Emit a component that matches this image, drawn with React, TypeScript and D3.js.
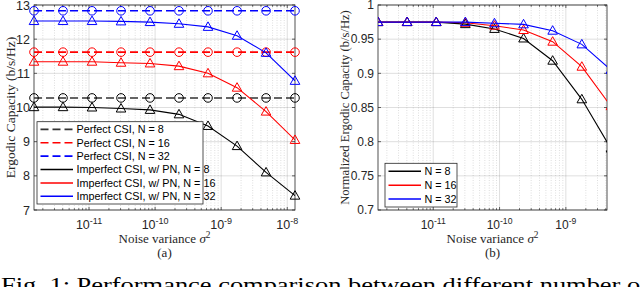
import { useEffect, useRef } from "react";
import * as d3 from "d3";

// noise variance sigma^2 at each simulated point
const noiseVariance = [1.47e-12, 4.04e-12, 1.11e-11, 3.05e-11, 8.38e-11, 2.3e-10, 6.32e-10, 1.74e-9, 4.78e-9, 1.31e-8];

const xTicks = [1e-11, 1e-10, 1e-9, 1e-8];
const xTickExponents = ["-11", "-10", "-9", "-8"];

const capacityTicks = [7, 8, 9, 10, 11, 12, 13];
const normalizedTicks = [0.7, 0.75, 0.8, 0.85, 0.9, 0.95, 1];
const normalizedTickLabels = ["0.7", "0.75", "0.8", "0.85", "0.9", "0.95", "1"];

// (a) ergodic capacity
const perfectN8 = [10.28, 10.28, 10.28, 10.28, 10.28, 10.28, 10.28, 10.28, 10.28, 10.28];
const perfectN16 = [11.62, 11.62, 11.62, 11.62, 11.62, 11.62, 11.62, 11.62, 11.62, 11.62];
const perfectN32 = [12.83, 12.83, 12.83, 12.83, 12.83, 12.83, 12.83, 12.83, 12.83, 12.83];
const imperfectN8 = [10.01, 10.01, 10.0, 9.97, 9.93, 9.8, 9.46, 8.87, 8.1, 7.42];
const imperfectN16 = [11.34, 11.34, 11.34, 11.31, 11.29, 11.21, 11.0, 10.58, 9.88, 9.05];
const imperfectN32 = [12.53, 12.53, 12.53, 12.52, 12.5, 12.45, 12.36, 12.1, 11.6, 10.78];

// (b) normalized ergodic capacity
const normalizedN8 = [0.975, 0.975, 0.975, 0.972, 0.965, 0.951, 0.9185, 0.862, 0.79];
const normalizedN16 = [0.975, 0.975, 0.975, 0.974, 0.9697, 0.9634, 0.9463, 0.9097, 0.852];
const normalizedN32 = [0.975, 0.975, 0.975, 0.975, 0.9732, 0.9717, 0.9624, 0.9424, 0.905];

const legendA = [
  "Perfect CSI, N = 8",
  "Perfect CSI, N = 16",
  "Perfect CSI, N = 32",
  "Imperfect CSI, w/ PN, N = 8",
  "Imperfect CSI, w/ PN, N = 16",
  "Imperfect CSI, w/ PN, N = 32",
];
const legendB = ["N = 8", "N = 16", "N = 32"];

const colors = ["#000000", "#ff0000", "#0000ff"];
const axisColor = "#262626";
const sans = "Liberation Sans, Arial, sans-serif";
const serif = "Liberation Serif, Times New Roman, serif";

const App = () => {
  const svgRef = useRef(null);

  useEffect(() => {
    document.body.style.margin = "0";
    const svg = d3.select(svgRef.current);
    svg.selectAll("*").remove();

    const panelA = createAxes(svg, "a", { left: 34, right: 295, top: 5, bottom: 210 },
      [1.47e-12, 1.31e-8], [7, 13], capacityTicks, capacityTicks.map(String), 12.5);
    const panelB = createAxes(svg, "b", { left: 378, right: 607, top: 5, bottom: 210 },
      [1.47e-12, 4.17e-9], [0.7, 1], normalizedTicks, normalizedTickLabels, 12);

    // panel (a) series
    [perfectN8, perfectN16, perfectN32].forEach((s, i) =>
      drawSeries(panelA, s, colors[i], "circle", true, i === 0 ? "#333333" : colors[i]));
    [imperfectN8, imperfectN16, imperfectN32].forEach((s, i) =>
      drawSeries(panelA, s, colors[i], "triangle", false, colors[i]));

    // panel (b) series
    [normalizedN8, normalizedN16, normalizedN32].forEach((s, i) =>
      drawSeries(panelB, s, colors[i], "triangle", false, colors[i]));

    drawLegend(svg, { x: 37, y: 121.7, w: 166, h: 82.3 }, legendA,
      [true, true, true, false, false, false], [0, 1, 2, 0, 1, 2], 10.8);
    drawLegend(svg, { x: 385, y: 163.3, w: 72, h: 43.7 }, legendB,
      [false, false, false], [0, 1, 2], 10.8);

    // axis titles
    addTitles(svg, panelA, "Ergodic Capacity (b/s/Hz)", 10, "(a)", 13, 13.5);
    addTitles(svg, panelB, "Normalized Ergodic Capacity (b/s/Hz)", 344, "(b)", 13, 12.6);

    svg.append("text")
      .attr("x", 1)
      .attr("y", 292)
      .attr("font-family", serif)
      .attr("font-size", 22)
      .attr("textLength", 648)
      .attr("lengthAdjust", "spacingAndGlyphs")
      .attr("fill", "#000")
      .text("Fig. 1: Performance comparison between different number of");
  }, []);

  function createAxes(svg, id, box, xDomain, yDomain, yTicks, yLabels, fontSize) {
    const x = d3.scaleLog().domain(xDomain).range([box.left, box.right]);
    const y = d3.scaleLinear().domain(yDomain).range([box.bottom, box.top]);
    const g = svg.append("g");

    svg.append("clipPath")
      .attr("id", "clip-" + id)
      .append("rect")
      .attr("x", box.left)
      .attr("y", box.top)
      .attr("width", box.right - box.left)
      .attr("height", box.bottom - box.top);

    // minor decades for the log axis
    const minor = [];
    for (let e = -13; e <= -7; e++) {
      for (let m = 2; m <= 9; m++) {
        const v = m * Math.pow(10, e);
        if (v >= xDomain[0] && v <= xDomain[1]) minor.push(v);
      }
    }

    g.selectAll(".minorgrid")
      .data(minor)
      .enter()
      .append("line")
      .attr("x1", (d) => x(d))
      .attr("x2", (d) => x(d))
      .attr("y1", box.top)
      .attr("y2", box.bottom)
      .attr("stroke", axisColor)
      .attr("stroke-opacity", 0.22)
      .attr("stroke-width", 0.7)
      .attr("stroke-dasharray", "1,1.5");

    const majorX = xTicks.filter((d) => d >= xDomain[0] && d <= xDomain[1]);
    g.selectAll(".xgrid")
      .data(majorX)
      .enter()
      .append("line")
      .attr("x1", (d) => x(d))
      .attr("x2", (d) => x(d))
      .attr("y1", box.top)
      .attr("y2", box.bottom)
      .attr("stroke", axisColor)
      .attr("stroke-opacity", 0.15)
      .attr("stroke-width", 1);

    g.selectAll(".ygrid")
      .data(yTicks)
      .enter()
      .append("line")
      .attr("x1", box.left)
      .attr("x2", box.right)
      .attr("y1", (d) => y(d))
      .attr("y2", (d) => y(d))
      .attr("stroke", axisColor)
      .attr("stroke-opacity", 0.15)
      .attr("stroke-width", 1);

    // tick marks (inside, on all four sides)
    const ticks = g.append("g").attr("stroke", axisColor).attr("stroke-width", 0.7);
    minor.forEach((d) => {
      ticks.append("line").attr("x1", x(d)).attr("x2", x(d)).attr("y1", box.bottom).attr("y2", box.bottom - 1.8);
      ticks.append("line").attr("x1", x(d)).attr("x2", x(d)).attr("y1", box.top).attr("y2", box.top + 1.8);
    });
    majorX.forEach((d) => {
      ticks.append("line").attr("x1", x(d)).attr("x2", x(d)).attr("y1", box.bottom).attr("y2", box.bottom - 3);
      ticks.append("line").attr("x1", x(d)).attr("x2", x(d)).attr("y1", box.top).attr("y2", box.top + 3);
    });
    yTicks.forEach((d) => {
      ticks.append("line").attr("x1", box.left).attr("x2", box.left + 3).attr("y1", y(d)).attr("y2", y(d));
      ticks.append("line").attr("x1", box.right).attr("x2", box.right - 3).attr("y1", y(d)).attr("y2", y(d));
    });

    g.append("rect")
      .attr("x", box.left)
      .attr("y", box.top)
      .attr("width", box.right - box.left)
      .attr("height", box.bottom - box.top)
      .attr("fill", "none")
      .attr("stroke", axisColor)
      .attr("stroke-width", 0.8);

    // tick labels
    yTicks.forEach((d, i) => {
      g.append("text")
        .attr("x", box.left - 4)
        .attr("y", y(d))
        .attr("dy", "0.36em")
        .attr("text-anchor", "end")
        .attr("font-family", sans)
        .attr("font-size", fontSize)
        .attr("fill", axisColor)
        .text(yLabels[i]);
    });
    xTicks.forEach((d, i) => {
      if (d < xDomain[0] || d > xDomain[1]) return;
      const t = g.append("text")
        .attr("x", x(d))
        .attr("y", 228.5)
        .attr("text-anchor", "middle")
        .attr("font-family", sans)
        .attr("font-size", fontSize)
        .attr("fill", axisColor);
      t.append("tspan").text("10");
      t.append("tspan").attr("dy", -5).attr("font-size", fontSize * 0.72).text(xTickExponents[i]);
    });

    return { x, y, box, id, layer: svg.append("g") };
  }

  function drawSeries(panel, values, color, marker, dashed, stroke) {
    const pts = values.map((v, i) => [noiseVariance[i], v]);
    const line = d3.line().x((d) => panel.x(d[0])).y((d) => panel.y(d[1]));
    const clip = panel.id === "b" ? "url(#clip-b)" : null;

    panel.layer.append("path")
      .datum(pts)
      .attr("d", line)
      .attr("fill", "none")
      .attr("stroke", stroke)
      .attr("stroke-width", dashed ? 1.6 : 1.1)
      .attr("stroke-dasharray", dashed ? "8,4" : null)
      .attr("clip-path", "url(#clip-" + panel.id + ")");

    const marks = panel.layer.append("g").attr("clip-path", clip);
    pts.forEach((d) => {
      const cx = panel.x(d[0]);
      const cy = panel.y(d[1]);
      if (marker === "circle") {
        marks.append("circle")
          .attr("cx", cx)
          .attr("cy", cy)
          .attr("r", 4.3)
          .attr("fill", "none")
          .attr("stroke", color)
          .attr("stroke-width", 1);
      } else {
        marks.append("path")
          .attr("d", `M${cx},${cy - 5}L${cx + 4.8},${cy + 3.5}L${cx - 4.8},${cy + 3.5}Z`)
          .attr("fill", "none")
          .attr("stroke", color)
          .attr("stroke-width", 1);
      }
    });
  }

  function drawLegend(svg, box, labels, dashed, colorIdx, fontSize) {
    const g = svg.append("g");
    g.append("rect")
      .attr("x", box.x)
      .attr("y", box.y)
      .attr("width", box.w)
      .attr("height", box.h)
      .attr("fill", "#fff")
      .attr("stroke", axisColor)
      .attr("stroke-width", 0.8);
    const step = (box.h - 2) / labels.length;
    labels.forEach((label, i) => {
      const cy = box.y + 1 + step * (i + 0.5);
      g.append("line")
        .attr("x1", box.x + 3.5)
        .attr("x2", box.x + 36)
        .attr("y1", cy)
        .attr("y2", cy)
        .attr("stroke", i === 0 && dashed[i] ? "#333333" : colors[colorIdx[i]])
        .attr("stroke-width", dashed[i] ? 1.6 : 1.5)
        .attr("stroke-dasharray", dashed[i] ? "8,4" : null);
      g.append("text")
        .attr("x", box.x + 39.5)
        .attr("y", cy)
        .attr("dy", "0.36em")
        .attr("font-family", sans)
        .attr("font-size", fontSize)
        .attr("fill", "#000")
        .text(label);
    });
  }

  function addTitles(svg, panel, yTitle, yTitleX, tag, fontSize, yFontSize) {
    const cx = (panel.box.left + panel.box.right) / 2;
    const xt = svg.append("text")
      .attr("x", cx)
      .attr("y", 243)
      .attr("text-anchor", "middle")
      .attr("font-family", serif)
      .attr("font-size", fontSize)
      .attr("fill", axisColor);
    xt.append("tspan").text("Noise variance ");
    xt.append("tspan").attr("font-style", "italic").text("σ");
    xt.append("tspan").attr("dy", -5.5).attr("font-size", fontSize * 0.72).text("2");

    svg.append("text")
      .attr("x", cx)
      .attr("y", 257)
      .attr("text-anchor", "middle")
      .attr("font-family", serif)
      .attr("font-size", fontSize)
      .attr("fill", axisColor)
      .text(tag);

    svg.append("text")
      .attr("transform", `translate(${yTitleX},${(panel.box.top + panel.box.bottom) / 2}) rotate(-90)`)
      .attr("text-anchor", "middle")
      .attr("dy", "0.36em")
      .attr("font-family", serif)
      .attr("font-size", yFontSize)
      .attr("fill", axisColor)
      .text(yTitle);
  }

  return (
    <svg
      ref={svgRef}
      width={640}
      height={287}
      style={{ position: "absolute", left: 0, top: 0, background: "#fff" }}
    ></svg>
  );
};

export default App;
